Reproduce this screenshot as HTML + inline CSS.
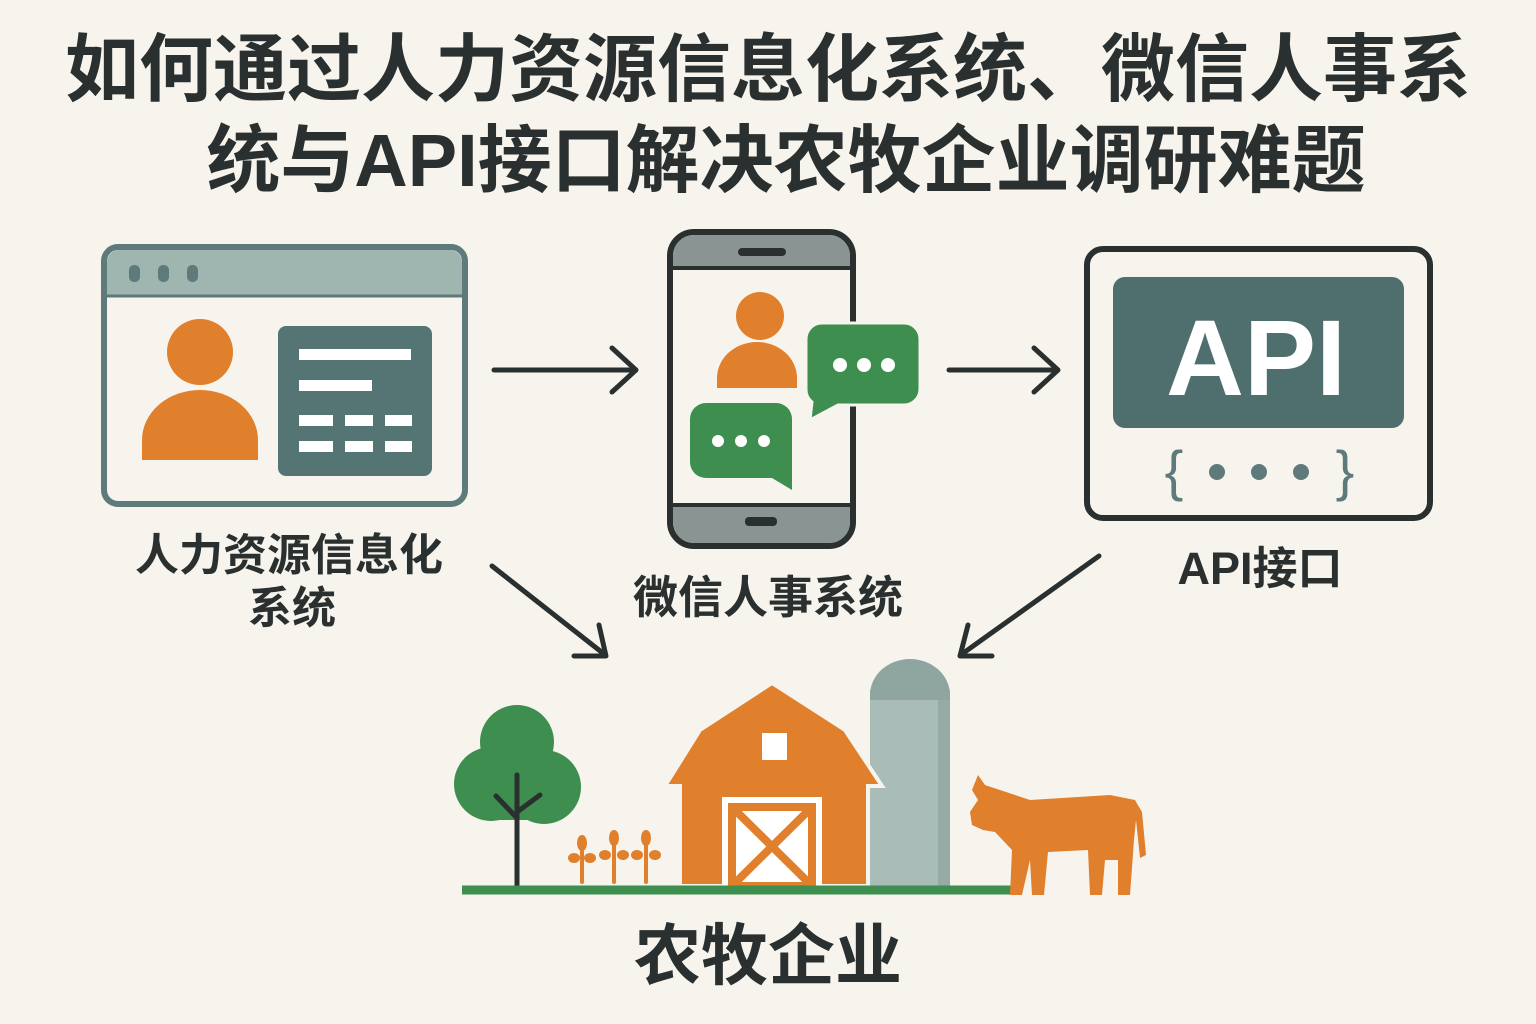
<!DOCTYPE html>
<html><head><meta charset="utf-8"><style>
html,body{margin:0;padding:0;background:#f7f4ee;}
svg{display:block}
text{font-family:"Liberation Sans","Noto Sans CJK SC",sans-serif;font-weight:700;fill:#2a2f2f}
</style></head><body>
<svg width="1536" height="1024" viewBox="0 0 1536 1024" xmlns="http://www.w3.org/2000/svg">
<rect width="1536" height="1024" fill="#f7f4ee"/>
<text x="768" y="95" font-size="74" text-anchor="middle">如何通过人力资源信息化系统、微信人事系</text>
<text x="786" y="186" font-size="74" text-anchor="middle">统与API接口解决农牧企业调研难题</text>

<!-- left window -->
<rect x="104" y="247" width="361" height="257" rx="14" fill="#f7f4ee" stroke="#5e7a7a" stroke-width="6"/>
<path d="M107 295 V262 a12 12 0 0 1 12 -12 H450 a12 12 0 0 1 12 12 V295 Z" fill="#9fb5b0"/>
<line x1="104" y1="296" x2="465" y2="296" stroke="#5e7a7a" stroke-width="3"/>
<rect x="129" y="265" width="11" height="17" rx="5" fill="#5e7a7a"/>
<rect x="158" y="265" width="11" height="17" rx="5" fill="#5e7a7a"/>
<rect x="187" y="265" width="11" height="17" rx="5" fill="#5e7a7a"/>
<circle cx="200" cy="352" r="33" fill="#e07f2c"/>
<path d="M142 460 V440 a58 50 0 0 1 116 0 V460 Z" fill="#e07f2c"/>
<rect x="278" y="326" width="154" height="150" rx="8" fill="#557575"/>
<rect x="299" y="349" width="112" height="11" fill="#fff"/>
<rect x="299" y="380" width="73" height="11" fill="#fff"/>
<rect x="299" y="415" width="34" height="11" fill="#fff"/><rect x="345" y="415" width="28" height="11" fill="#fff"/><rect x="385" y="415" width="27" height="11" fill="#fff"/>
<rect x="299" y="441" width="34" height="11" fill="#fff"/><rect x="345" y="441" width="28" height="11" fill="#fff"/><rect x="385" y="441" width="27" height="11" fill="#fff"/>

<!-- arrows -->
<g stroke="#2a2f2f" stroke-width="5" fill="none" stroke-linecap="round" stroke-linejoin="round">
<line x1="494" y1="370" x2="634" y2="370"/><polyline points="612,348 636,370 612,392"/>
<line x1="949" y1="370" x2="1056" y2="370"/><polyline points="1034,348 1058,370 1034,392"/>
<line x1="492" y1="566" x2="604" y2="654"/><polyline points="574,656 606,656 599,625"/>
<line x1="1099" y1="556" x2="962" y2="654"/><polyline points="992,656 960,656 968,625"/>
</g>

<!-- phone -->
<rect x="670" y="232" width="183" height="314" rx="24" fill="#f7f4ee" stroke="#2a2f2f" stroke-width="6"/>
<path d="M673 268 V256 a21 21 0 0 1 21 -21 H829 a21 21 0 0 1 21 21 V268 Z" fill="#8a9593"/>
<path d="M673 505 V522 a21 21 0 0 0 21 21 H829 a21 21 0 0 0 21 -21 V505 Z" fill="#8a9593"/>
<line x1="673" y1="268" x2="850" y2="268" stroke="#2a2f2f" stroke-width="4"/>
<line x1="673" y1="505" x2="850" y2="505" stroke="#2a2f2f" stroke-width="4"/>
<rect x="738" y="248" width="48" height="8" rx="4" fill="#2a2f2f"/>
<rect x="745" y="517" width="32" height="9" rx="4" fill="#2a2f2f"/>
<circle cx="760" cy="316" r="24" fill="#e07f2c"/>
<path d="M717 388 V378 a40 36 0 0 1 80 0 V388 Z" fill="#e07f2c"/>
<path d="M822 323 H904 a16 16 0 0 1 16 16 V389 a16 16 0 0 1 -16 16 H838 L810 420 L812 402 a16 16 0 0 1 -6 -13 V339 a16 16 0 0 1 16 -16 Z" fill="#3e8e4f" stroke="#f7f4ee" stroke-width="3"/>
<circle cx="840" cy="365" r="7" fill="#fff"/><circle cx="864" cy="365" r="7" fill="#fff"/><circle cx="888" cy="365" r="7" fill="#fff"/>
<path d="M706 403 H776 a16 16 0 0 1 16 16 V468 L792 490 L772 478 H706 a16 16 0 0 1 -16 -16 V419 a16 16 0 0 1 16 -16 Z" fill="#3e8e4f"/>
<circle cx="718" cy="441" r="6" fill="#fff"/><circle cx="741" cy="441" r="6" fill="#fff"/><circle cx="764" cy="441" r="6" fill="#fff"/>

<!-- API box -->
<rect x="1087" y="249" width="343" height="269" rx="16" fill="#f7f4ee" stroke="#2a2f2f" stroke-width="6"/>
<rect x="1113" y="277" width="291" height="151" rx="12" fill="#4f6e6e"/>
<text x="1256" y="395" font-size="108" text-anchor="middle" style="fill:#fff">API</text>
<text x="1174" y="490" font-size="56" text-anchor="middle" style="fill:#5e7a7a;font-weight:400">{</text>
<text x="1345" y="490" font-size="56" text-anchor="middle" style="fill:#5e7a7a;font-weight:400">}</text>
<circle cx="1217" cy="472" r="8" fill="#5e7a7a"/><circle cx="1259" cy="472" r="8" fill="#5e7a7a"/><circle cx="1301" cy="472" r="8" fill="#5e7a7a"/>

<!-- labels -->
<text x="289" y="570" font-size="44" text-anchor="middle">人力资源信息化</text>
<text x="292" y="623" font-size="44" text-anchor="middle">系统</text>
<text x="768" y="613" font-size="45" text-anchor="middle">微信人事系统</text>
<text x="1260" y="584" font-size="45" text-anchor="middle">API接口</text>

<!-- farm -->
<circle cx="517" cy="742" r="37" fill="#3e8e4f"/>
<circle cx="491" cy="784" r="37" fill="#3e8e4f"/>
<circle cx="544" cy="787" r="37" fill="#3e8e4f"/>
<rect x="498" y="760" width="40" height="60" fill="#3e8e4f"/>
<g stroke="#2a2f2f" stroke-width="5" fill="none" stroke-linecap="round">
<line x1="517" y1="775" x2="517" y2="886"/><line x1="517" y1="818" x2="496" y2="796"/><line x1="517" y1="812" x2="540" y2="795"/>
</g>
<g stroke="#e07f2c" stroke-width="4" fill="#e07f2c" stroke-linecap="round">
<line x1="582" y1="882" x2="582" y2="845"/><line x1="614" y1="882" x2="614" y2="840"/><line x1="646" y1="882" x2="646" y2="840"/>
<ellipse cx="582" cy="843" rx="3" ry="6"/><ellipse cx="574" cy="858" rx="4" ry="3"/><ellipse cx="590" cy="858" rx="4" ry="3"/>
<ellipse cx="614" cy="838" rx="3" ry="6"/><ellipse cx="605" cy="855" rx="4" ry="3"/><ellipse cx="623" cy="855" rx="4" ry="3"/>
<ellipse cx="646" cy="838" rx="3" ry="6"/><ellipse cx="637" cy="855" rx="4" ry="3"/><ellipse cx="655" cy="855" rx="4" ry="3"/>
</g>
<rect x="870" y="690" width="80" height="196" fill="#a9bcb7"/>
<path d="M870 700 V695 a40 36 0 0 1 80 0 V700 Z" fill="#8fa5a0"/>
<rect x="938" y="700" width="12" height="186" fill="#97aba6"/>
<path d="M665 786 L700 730 L772 683 L845 730 L882 786 L868 786 L868 886 L680 886 L680 786 Z" fill="#e07f2c" stroke="#f7f4ee" stroke-width="4"/>
<rect x="762" y="733" width="25" height="27" fill="#fff"/>
<rect x="722" y="797" width="100" height="89" fill="#fff"/>
<rect x="732" y="807" width="80" height="79" fill="none" stroke="#e07f2c" stroke-width="8"/>
<line x1="732" y1="807" x2="812" y2="886" stroke="#e07f2c" stroke-width="8"/>
<line x1="812" y1="807" x2="732" y2="886" stroke="#e07f2c" stroke-width="8"/>
<line x1="462" y1="890" x2="1020" y2="890" stroke="#3e8e4f" stroke-width="9"/>
<path d="M978 775 L985 785 L1000 790 L1030 800 L1110 795 L1135 800 L1142 812 L1146 855 L1140 858 L1136 820 L1134 840 L1130 895 L1118 895 L1118 860 L1105 860 L1102 895 L1090 895 L1088 850 L1048 852 L1044 895 L1032 895 L1030 860 L1022 895 L1010 895 L1012 850 L995 832 L983 830 L972 825 L970 812 L978 800 L972 790 Z" fill="#e07f2c"/>
<text x="768" y="979" font-size="67" text-anchor="middle">农牧企业</text>
</svg>
</body></html>
